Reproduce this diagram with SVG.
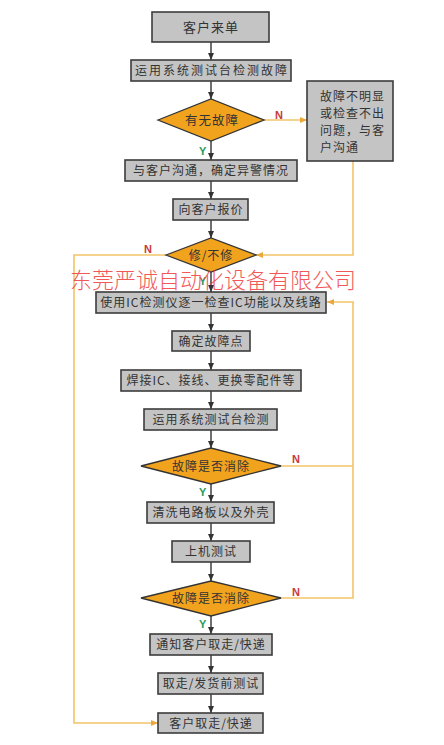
<svg xmlns="http://www.w3.org/2000/svg" width="444" height="745" viewBox="0 0 444 745">
<defs>
<style>
.box{fill:#c4c4c4;stroke:#3c3c3c;stroke-width:1.6}
.dia{fill:#f2a31e;stroke:#333;stroke-width:1.3}
.t{font-family:"Noto Sans CJK SC","Liberation Sans",sans-serif;font-size:12px;fill:#333;text-anchor:middle;letter-spacing:1px}
.tl{font-family:"Noto Sans CJK SC","Liberation Sans",sans-serif;font-size:12px;fill:#333;letter-spacing:1px}
.k{stroke:#333;stroke-width:1.4;fill:none}
.o{stroke:#f2c468;stroke-width:1.6;fill:none}
.n{font-family:"Liberation Sans",sans-serif;font-size:11px;font-weight:bold;fill:#c83a3a}
.y{font-family:"Liberation Sans",sans-serif;font-size:11px;font-weight:bold;fill:#1f9a5c}
</style>
<marker id="ak" markerUnits="userSpaceOnUse" markerWidth="8" markerHeight="8" refX="7" refY="4" orient="auto"><path d="M0,1 L7,4 L0,7 Z" fill="#333"/></marker>
<marker id="ao" markerUnits="userSpaceOnUse" markerWidth="8" markerHeight="8" refX="7" refY="4" orient="auto"><path d="M0,1 L7,4 L0,7 Z" fill="#e9a93c"/></marker>
</defs>
<rect width="444" height="745" fill="#fff"/>
<g id="connectors">
<path class="k" marker-end="url(#ak)" d="M211,42V60"/>
<path class="k" marker-end="url(#ak)" d="M211,81V99"/>
<path class="k" marker-end="url(#ak)" d="M211,141V160"/>
<path class="k" marker-end="url(#ak)" d="M211,181V199"/>
<path class="k" marker-end="url(#ak)" d="M211,220V238"/>
<path class="k" marker-end="url(#ak)" d="M211,272V292"/>
<path class="k" marker-end="url(#ak)" d="M211,313V331"/>
<path class="k" marker-end="url(#ak)" d="M211,351V370"/>
<path class="k" marker-end="url(#ak)" d="M211,391V409"/>
<path class="k" marker-end="url(#ak)" d="M211,430V448"/>
<path class="k" marker-end="url(#ak)" d="M211,484V502"/>
<path class="k" marker-end="url(#ak)" d="M211,523V541"/>
<path class="k" marker-end="url(#ak)" d="M211,562V581"/>
<path class="k" marker-end="url(#ak)" d="M211,616V634"/>
<path class="k" marker-end="url(#ak)" d="M211,655V673"/>
<path class="k" marker-end="url(#ak)" d="M211,694V713"/>
<path class="o" marker-end="url(#ao)" d="M263,120H307"/>
<path class="o" marker-end="url(#ao)" d="M353,161V255H256"/>
<path class="o" marker-end="url(#ao)" d="M166,255H74V723H158"/>
<path class="o" d="M280,466H353"/>
<path class="o" marker-end="url(#ao)" d="M280,598H353V302H327"/>
<text class="n" x="275" y="119">N</text>
<text class="y" x="199" y="155">Y</text>
<text class="n" x="144" y="253">N</text>
<text class="y" x="199" y="285">Y</text>
<text class="n" x="292" y="463">N</text>
<text class="y" x="199" y="496">Y</text>
<text class="n" x="292" y="596">N</text>
<text class="y" x="199" y="628">Y</text>
</g>
<g id="n1"><rect class="box" x="152" y="12" width="117" height="30"/><text class="t" x="211" y="32" style="font-size:13px">客户来单</text></g>
<g id="n2"><rect class="box" x="131" y="60" width="160" height="21"/><text class="t" x="212" y="75" style="letter-spacing:2px">运用系统测试台检测故障</text></g>
<g id="n3"><path class="dia" d="M158,120L211,99L264,120L211,141Z"/><text class="t" x="212" y="124.5" style="font-size:12.5px">有无故障</text></g>
<g id="n4"><rect class="box" x="307" y="81" width="86" height="80"/>
<text class="tl" x="320" y="100.5">故障不明显</text>
<text class="tl" x="320" y="118">或检查不出</text>
<text class="tl" x="320" y="135">问题，与客</text>
<text class="tl" x="320" y="152">户沟通</text></g>
<g id="n5"><rect class="box" x="125" y="160" width="172" height="21"/><text class="t" x="211" y="175">与客户沟通，确定异警情况</text></g>
<g id="n6"><rect class="box" x="173" y="199" width="75" height="21"/><text class="t" x="211" y="214">向客户报价</text></g>
<g id="n7"><path class="dia" d="M166,255L211,238L256,255L211,272Z"/><text class="t" x="211" y="259.5">修/不修</text></g>
<g id="n8"><rect class="box" x="96" y="292" width="230" height="21"/><text class="t" x="211" y="307">使用IC检测仪逐一检查IC功能以及线路</text></g>
<g id="n9"><rect class="box" x="172" y="331" width="78" height="20"/><text class="t" x="211" y="345.5">确定故障点</text></g>
<g id="n10"><rect class="box" x="121" y="370" width="180" height="21"/><text class="t" x="211" y="385">焊接IC、接线、更换零配件等</text></g>
<g id="n11"><rect class="box" x="144" y="409" width="133" height="21"/><text class="t" x="211" y="424">运用系统测试台检测</text></g>
<g id="n12"><path class="dia" d="M141,466L211,448L281,466L211,484Z"/><text class="t" x="211" y="470.5">故障是否消除</text></g>
<g id="n13"><rect class="box" x="147" y="502" width="127" height="21"/><text class="t" x="211" y="517">清洗电路板以及外壳</text></g>
<g id="n14"><rect class="box" x="172" y="541" width="78" height="21"/><text class="t" x="211" y="556">上机测试</text></g>
<g id="n15"><path class="dia" d="M141,598L211,581L281,598L211,616Z"/><text class="t" x="211" y="602.5">故障是否消除</text></g>
<g id="n16"><rect class="box" x="150" y="634" width="122" height="21"/><text class="t" x="211" y="649">通知客户取走/快递</text></g>
<g id="n17"><rect class="box" x="158" y="673" width="105" height="21"/><text class="t" x="211" y="688">取走/发货前测试</text></g>
<g id="n18"><rect class="box" x="158" y="713" width="105" height="20"/><text class="t" x="211" y="727.5">客户取走/快递</text></g>
<text x="213" y="288" style="font-family:'Noto Sans CJK SC',sans-serif;font-size:22px;font-weight:300;fill:#f03c3c;text-anchor:middle;opacity:0.85">东莞严诚自动化设备有限公司</text>
</svg>
